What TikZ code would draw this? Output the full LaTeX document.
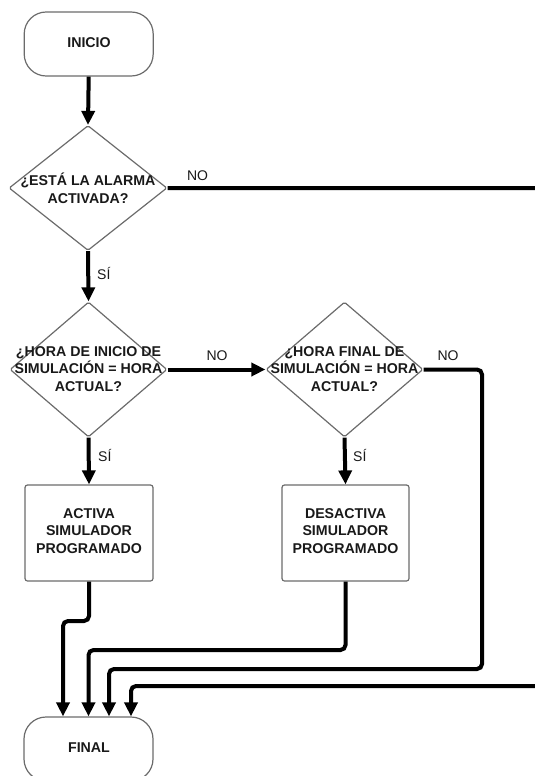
\documentclass[tikz,border=0pt]{standalone}
\usepackage{fontspec}
\setmainfont{Liberation Sans}
\usetikzlibrary{shapes.geometric,arrows.meta,calc}
\begin{document}
\begin{tikzpicture}[x=1pt,y=-1pt,
  conn/.style={line width=4pt, -{Triangle[width=13pt,length=14pt]}, rounded corners=5pt},
  shapeln/.style={draw=black!58, line width=1.2pt},
  btxt/.style={font=\bfseries\fontsize{14.2}{17.8}\selectfont, text=black!90, align=center, inner sep=0pt},
  ltxt/.style={font=\fontsize{14}{16}\selectfont, text=black!90, inner sep=0pt},
  dec/.style={shape=diamond, shapeln, rounded corners=1.5pt, inner sep=0pt},
  procbox/.style={shapeln, rounded corners=2.5pt, minimum height=96pt, inner sep=0pt},
  term/.style={shapeln, rounded corners=22pt, minimum width=129pt, minimum height=64pt, inner sep=0pt}]
\useasboundingbox (0,0) rectangle (535,776);
\clip (0,0) rectangle (535,776);

% terminals
\node[term] (inicio) at (88.7,44) {};
\node[btxt] (tinicio) at (89,43) {INICIO};
\node[term] (final) at (88.5,749) {};
\node[btxt] (tfinal) at (89,748) {FINAL};

% decisions
\node[dec, minimum width=158pt, minimum height=125pt] (d1) at (88,188) {};
\node[btxt] (td1) at (88,188) {¿ESTÁ LA ALARMA\\ACTIVADA?};
\node[dec, minimum width=157pt, minimum height=135pt] (d2) at (88.5,369.5) {};
\node[btxt] (td2) at (88.5,369) {¿HORA DE INICIO DE\\SIMULACIÓN = HORA\\ACTUAL?};
\node[dec, minimum width=157pt, minimum height=135pt] (d3) at (344.5,369.5) {};
\node[btxt] (td3) at (344.5,369) {¿HORA FINAL DE\\SIMULACIÓN = HORA\\ACTUAL?};

% processes
\node[procbox, minimum width=128pt] (act) at (89,533) {};
\node[btxt] (tact) at (89,531) {ACTIVA\\SIMULADOR\\PROGRAMADO};
\node[procbox, minimum width=127pt] (des) at (345.5,533) {};
\node[btxt] (tdes) at (345.5,531) {DESACTIVA\\SIMULADOR\\PROGRAMADO};

% connectors
\draw[conn] (inicio.south) -- (d1.north);
\draw[conn] (d1.south) -- (d2.north);
\draw[conn] (d2.south) -- (act.north);
\draw[conn] (d3.south) -- (des.north);
\draw[conn] (d2.east) -- (d3.west);
\draw[conn] (d1.east) -- (565,188) -- (565,686) -| ([xshift=42.5pt]final.north);
\draw[conn] (d3.east) -- (482,369.5) -- (482,669) -| ([xshift=20.5pt]final.north);
\draw[conn] (des.south) -- (345.5,650) -| ([xshift=0pt]final.north);
\draw[conn] (act.south) -- (89,621) -| ([xshift=-25.5pt]final.north);

% labels
\node[ltxt] (no1) at (197.5,176) {NO};
\node[ltxt, anchor=west] (si1) at (97,273) {SÍ};
\node[ltxt] (no2) at (217,356) {NO};
\node[ltxt, anchor=west] (si2) at (98,455) {SÍ};
\node[ltxt] (no3) at (448,356) {NO};
\node[ltxt, anchor=west] (si3) at (353,455) {SÍ};
\end{tikzpicture}
\end{document}
